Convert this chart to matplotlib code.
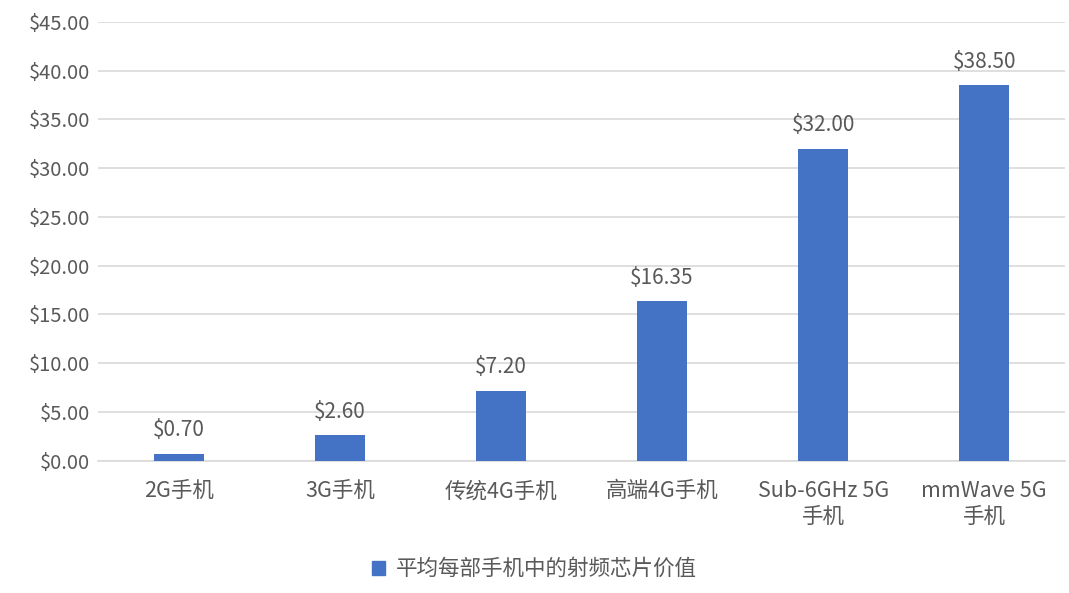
import matplotlib
matplotlib.use("Agg")
import matplotlib.pyplot as plt
from matplotlib.patches import Patch

plt.rcParams['font.family'] = ['Noto Sans CJK SC', 'DejaVu Sans']

categories = ["2G手机", "3G手机", "传统4G手机", "高端4G手机", "Sub-6GHz 5G\n手机", "mmWave 5G\n手机"]
values = [0.70, 2.60, 7.20, 16.35, 32.00, 38.50]
series_name = "平均每部手机中的射频芯片价值"
yticks = [0, 5, 10, 15, 20, 25, 30, 35, 40, 45]

gray = "#595959"
blue = "#4472C4"

fig = plt.figure(figsize=(10.69, 5.93), dpi=100)
ax = fig.add_axes([0.092, 0.223, 0.904, 0.740])
x = list(range(len(categories)))
ax.bar(x, values, width=0.31, color=blue, zorder=3)
for xi, v in zip(x, values):
    ax.text(xi, v + 1.3, f"${v:.2f}", ha='center', va='bottom', fontsize=15, color=gray)
ax.set_xlim(-0.5, len(categories) - 0.5)
ax.set_ylim(0, 45)
ax.set_yticks(yticks)
ax.set_yticklabels([f"${t:.2f}" for t in yticks], fontsize=14.5, color=gray)
ax.set_xticks(x)
ax.set_xticklabels(categories, fontsize=15.5, color=gray, linespacing=1.2)
ax.grid(axis='y', color='#D9D9D9', linewidth=1.2, zorder=0)
for s in ['top', 'right', 'left']:
    ax.spines[s].set_visible(False)
ax.spines['bottom'].set_color('#D9D9D9')
ax.spines['bottom'].set_linewidth(1.2)
ax.tick_params(axis='y', length=0, pad=6)
ax.tick_params(axis='x', length=0, pad=14)
fig.legend(handles=[Patch(color=blue, label=series_name)], loc='center', bbox_to_anchor=(0.5, 0.04),
           frameon=False, fontsize=15.5, labelcolor=gray, handlelength=0.6, handleheight=0.6,
           handletextpad=0.5)
fig.savefig("out.png", dpi=100)
